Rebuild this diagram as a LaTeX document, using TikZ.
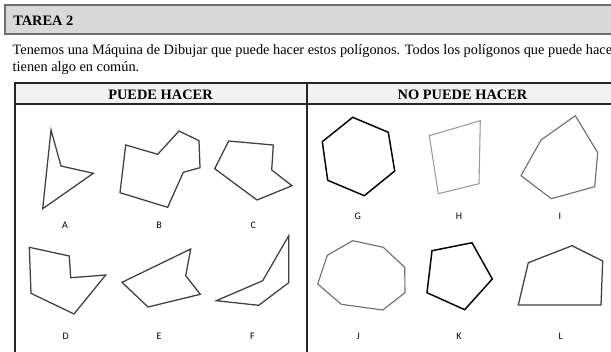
\documentclass[tikz,border=0pt]{standalone}
\usepackage{fontspec}
\setmainfont{Liberation Serif}
\newfontfamily\labfont{Carlito}
\definecolor{boxgray}{HTML}{D9D9D9}
\definecolor{rowgray}{HTML}{F2F2F2}
\definecolor{frame}{HTML}{6E6E6E}
\definecolor{polydark}{HTML}{404040}
\definecolor{polylight}{HTML}{9A9A9A}
\definecolor{polymid}{HTML}{707070}
\begin{document}
\begin{tikzpicture}[x=0.75pt,y=-0.75pt,
  txt/.style={anchor=west,inner sep=0pt,font=\fontsize{10.75}{13}\selectfont},
  head/.style={inner sep=0pt,font=\bfseries\fontsize{10.8}{13}\selectfont},
  lab/.style={inner sep=0pt,font=\labfont\fontsize{7.5}{9}\selectfont},
  tline/.style={draw=black!85,line width=0.9pt},
  polyA/.style={draw=polydark,line width=0.95pt,line join=miter},
  polyK/.style={draw=black,line width=1.1pt,line join=miter},
  polyL/.style={draw=polylight,line width=0.8pt,line join=miter},
  polyM/.style={draw=polymid,line width=0.85pt,line join=miter}]
\useasboundingbox (0,0) rectangle (611,351);
\clip (0,0) rectangle (611,351);
\fill[white] (0,0) rectangle (611,351);
% title box
\filldraw[fill=boxgray,draw=frame,line width=0.9pt] (5,5) rectangle (625,34);
\node[head,anchor=west] (title) at (13,20.5) {TAREA 2};
\node[txt] (line1) at (12.4,51.5) {Tenemos una Máquina de Dibujar que puede hacer estos polígonos. Todos los polígonos que puede hace};
\node[txt] (line2) at (12.4,68) {tienen algo en común.};
% table
\fill[rowgray] (15,83) rectangle (625,104);
\draw[tline] (625,83) -- (15,83) -- (15,360);
\draw[tline] (15,104) -- (625,104);
\draw[tline] (307,83) -- (307,360);
\node[head] (hleft) at (160.5,94.5) {PUEDE HACER};
\node[head] (hright) at (462.5,94.5) {NO PUEDE HACER};
% left panel polygons
\draw[polyA] (51,130) -- (61,166) -- (93.3,173.3) -- (42.7,208.7) -- cycle;
\draw[polyA] (125.7,145) -- (157.7,154.3) -- (179,131) -- (199,140.7) -- (200,167.7) -- (183.3,172.3) -- (167.7,207.3) -- (120,192.7) -- cycle;
\draw[polyA] (228.7,141) -- (273.3,145) -- (271.7,170) -- (292,185.7) -- (257,200) -- (214.7,168.7) -- cycle;
\draw[polyA] (29.3,247.3) -- (69.3,256) -- (70.7,277.7) -- (105.7,275) -- (74,314) -- (31,293.3) -- cycle;
\draw[polyA] (190.7,249) -- (185.7,275.7) -- (200.3,294.3) -- (148,307) -- (122,282.3) -- cycle;
\draw[polyA] (288.7,235.7) -- (288.7,282.7) -- (258.7,305.3) -- (216.3,300.7) -- (262.7,280.7) -- cycle;
\node[lab] (A) at (65,225) {A};
\node[lab] (B) at (159,225) {B};
\node[lab] (C) at (253.3,225) {C};
\node[lab] (D) at (65.7,336) {D};
\node[lab] (E) at (159,336) {E};
\node[lab] (F) at (252.3,336) {F};
% right panel polygons
\draw[polyK] (352.7,117.3) -- (388.3,132.3) -- (394.7,171) -- (364.3,195.7) -- (327.7,180.3) -- (322.3,141.7) -- cycle;
\draw[polyL] (429.3,135.7) -- (480.3,120.7) -- (479,183.7) -- (438.3,193.7) -- cycle;
\draw[polyM] (575.3,115.7) -- (597.7,152.7) -- (594.7,186.7) -- (551.3,198.7) -- (521,175.7) -- (541,140) -- cycle;
\draw[polyM] (352.7,240.7) -- (383.3,247.3) -- (404.7,267.3) -- (405,292.7) -- (382.7,310) -- (341.3,304.3) -- (317.7,284) -- (327.3,255.3) -- cycle;
\draw[polyK] (432,250.7) -- (472,242.7) -- (492.3,279) -- (464.7,309.7) -- (427,292.7) -- cycle;
\draw[polyA] (528.3,262.7) -- (572,245.7) -- (602.7,261) -- (601,305) -- (518.3,305) -- cycle;
\node[lab] (G) at (357.7,216.7) {G};
\node[lab] (H) at (459,216.7) {H};
\node[lab] (I) at (560,216.7) {I};
\node[lab] (J) at (358.3,336) {J};
\node[lab] (K) at (459,336) {K};
\node[lab] (L) at (560.7,336) {L};
\end{tikzpicture}
\end{document}
